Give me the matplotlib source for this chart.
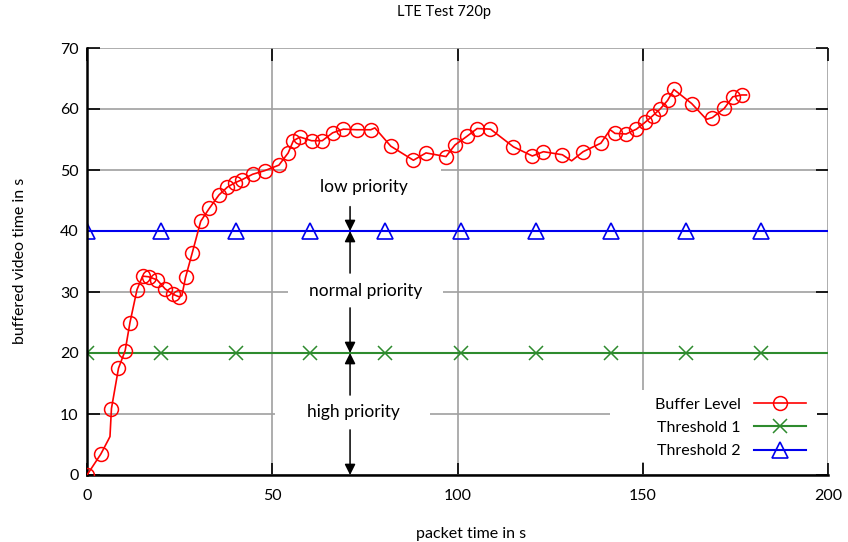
import matplotlib
matplotlib.use("Agg")
import matplotlib.pyplot as plt
from matplotlib.patches import Rectangle

# buffer level (flag 1 = point has a marker)
buf_x = [0, 3.7, 5.7, 6.2, 6.6, 8.5, 10.3, 11.6, 13.5, 15.0, 16.6, 18.9, 21.1, 23.3, 24.9, 25.6,
         26.6, 28.4, 30.7, 33.0, 35.6, 37.9, 39.9, 41.8, 44.7, 48.0, 51.8, 54.3, 55.7, 57.5,
         60.6, 63.5, 66.3, 69.2, 72.8, 76.6, 77.7, 82.0, 88.1, 91.5, 96.9, 99.3, 102.5, 105.3,
         108.9, 115.1, 120.2, 123.2, 128.3, 130.8, 133.9, 138.7, 141.2, 142.5, 145.5, 148.3,
         150.6, 152.7, 154.7, 156.7, 158.4, 163.2, 167.2, 168.8, 172.0, 174.3, 176.7, 178.0]
buf_y = [0, 3.4, 5.7, 6.3, 10.9, 17.5, 20.4, 25.0, 30.4, 32.6, 32.5, 32.0, 30.5, 29.6, 29.2, 29.4,
         32.4, 36.4, 41.6, 43.7, 45.9, 47.2, 47.9, 48.4, 49.3, 49.9, 50.8, 52.8, 54.8, 55.4,
         54.8, 54.8, 56.1, 56.7, 56.6, 56.6, 56.9, 53.9, 51.6, 52.8, 52.2, 54.1, 55.5, 56.8,
         56.7, 53.8, 52.3, 53.0, 52.5, 51.5, 53.0, 54.4, 56.6, 56.0, 55.9, 56.7,
         57.8, 58.9, 60.0, 61.4, 63.2, 60.9, 58.3, 58.6, 60.1, 62.0, 62.3, 62.3]
buf_mark = [1, 1, 0, 0, 1, 1, 1, 1, 1, 1, 1, 1, 1, 1, 1, 0,
            1, 1, 1, 1, 1, 1, 1, 1, 1, 1, 1, 1, 1, 1,
            1, 1, 1, 1, 1, 1, 0, 1, 1, 1, 1, 1, 1, 1,
            1, 1, 1, 1, 1, 0, 1, 1, 0, 1, 1, 1,
            1, 1, 1, 1, 1, 1, 0, 1, 1, 1, 1, 0]

# thresholds (last point only carries the line to the right edge)
thr_x = [0, 20.1, 40.2, 60.3, 80.5, 100.9, 121.2, 141.3, 161.6, 181.9, 200]
thr1_y = [20] * len(thr_x)
thr2_y = [40] * len(thr_x)

prio_labels = ["low priority", "normal priority", "high priority"]
prio_x = [74.8, 75.3, 71.8]
prio_y = [47.2, 30.2, 10.3]

# arrows: (start y, end y) at x = 71
arrow_x = 71
arrows = [(44.0, 40), (33.1, 40), (27.4, 20), (13.1, 20), (7.4, 0)]

plt.rcParams['font.family'] = ["Lato", "DejaVu Sans"]

fig = plt.figure(figsize=(8.48, 5.42), dpi=100)
ax = fig.add_axes([87/848, 67/542, 741/848, 427/542])
ax.set_xlim(0, 200)
ax.set_ylim(0, 70)
ax.set_axisbelow(True)

ax.set_xticks([0, 50, 100, 150, 200])
ax.set_yticks(range(0, 71, 10))
ax.grid(True, color="#a0a0a0", lw=1.2)
ax.tick_params(direction="in", length=9, width=1.2, color="black", labelsize=11.5,
               top=True, right=True)
ax.tick_params(axis="y", pad=6)
ax.tick_params(axis="x", pad=10)
for s in ["top", "right"]:
    ax.spines[s].set_visible(False)
for s in ["left", "bottom"]:
    ax.spines[s].set_linewidth(1.8)

# white boxes behind the priority labels (break the grid like the original)
box_cx = [74.6, 75.2, 71.7]
for cx, cy in zip(box_cx, prio_y):
    ax.add_patch(Rectangle((cx - 21, cy - 3.3), 42, 6.6, facecolor="white",
                           edgecolor="none", zorder=1))
# white area behind legend
ax.add_patch(Rectangle((0.706, 0.03), 0.279, 0.17, transform=ax.transAxes,
                       facecolor="white", edgecolor="none", zorder=1))

mark_idx = [i for i, m in enumerate(buf_mark) if m]
ax.plot(buf_x, buf_y, color="red", lw=1.2, marker="o", markersize=10,
        markerfacecolor="none", markeredgewidth=1.1, markevery=mark_idx,
        label="Buffer Level", zorder=3)
ax.plot(thr_x, thr1_y, color="#2e8b2e", lw=1.5, marker="x", markersize=10,
        markeredgewidth=1.1, markevery=list(range(len(thr_x) - 1)),
        label="Threshold 1", zorder=2.5)
ax.plot(thr_x, thr2_y, color="#0000ee", lw=1.5, marker="^", markersize=11,
        markerfacecolor="none", markeredgewidth=1.2, markevery=list(range(len(thr_x) - 1)),
        label="Threshold 2", zorder=2.5)

for txt, tx, ty in zip(prio_labels, prio_x, prio_y):
    ax.text(tx, ty, txt, ha="center", va="center", fontsize=12.5, zorder=4)

for y0, y1 in arrows:
    ax.annotate("", xy=(arrow_x, y1), xytext=(arrow_x, y0),
                arrowprops=dict(arrowstyle="-|>", color="black", lw=1.1,
                                mutation_scale=16, shrinkA=0, shrinkB=0),
                zorder=5)

leg = ax.legend(loc="lower right", bbox_to_anchor=(0.99, 0.005), frameon=False,
                markerfirst=False, fontsize=11.5, handlelength=3.3,
                labelspacing=0.58, handletextpad=0.8)

fig.text(444/848, 1 - 12/542, "LTE Test 720p", ha="center", va="center", fontsize=10.5)
fig.text(471/848, 1 - 534/542, "packet time in s", ha="center", va="center", fontsize=11.5)
fig.text(20/848, 1 - 261/542, "buffered video time in s", ha="center", va="center",
         rotation=90, fontsize=11.5)

fig.savefig("out.png", dpi=100)
